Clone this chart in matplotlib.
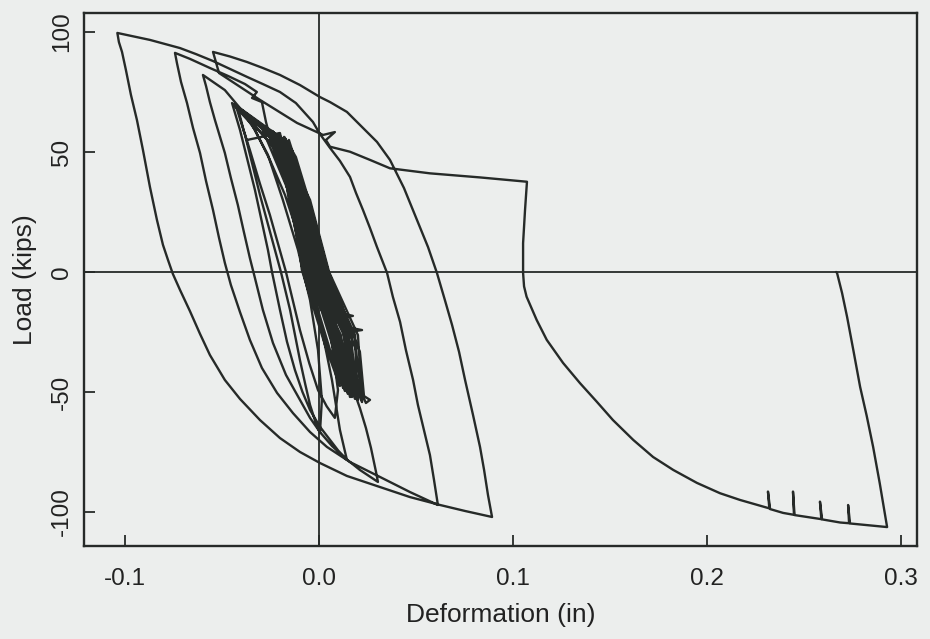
import matplotlib
matplotlib.use("Agg")
import matplotlib.pyplot as plt

plt.rcParams['font.family'] = ['Liberation Sans', 'DejaVu Sans']
plt.rcParams['axes.unicode_minus'] = False

# Load-deformation record, split into the stages of the test (deformation in, load kips)
small_cycles = [
    (-0.0371, 55.0), (-0.0201, 57.9),
    (-0.0139, 34.2), (-0.0088, 0.8), (0.0031, -30.4), (0.0108, -47.5),
    (0.0077, -30.4), (-0.0052, 0.8), (-0.0139, 30.0), (-0.0242, 52.9), (-0.0433, 69.6),
    (-0.0294, 60.0), (-0.0149, 32.1), (-0.0077, 0.8), (0.0046, -32.5), (0.0134, -49.6),
    (0.0103, -30.4), (-0.0036, 0.8), (-0.0119, 27.9), (-0.0222, 50.8), (-0.0397, 67.5),
    (-0.0263, 58.3), (-0.0134, 30.0), (-0.0067, 0.8), (0.0057, -32.5), (0.0149, -50.8),
    (0.0119, -30.4), (-0.0021, 0.8), (-0.0103, 27.9), (-0.0201, 51.7), (-0.0356, 65.0),
    (-0.0242, 57.1), (-0.0119, 30.0), (-0.0052, 0.8), (0.0077, -32.5), (0.0170, -52.1),
    (0.0139, -30.4), (0.0124, -25.4), (0.0222, -24.2), (0.0113, -22.5), (0.0098, -19.2),
    (0.0175, -18.3), (0.0088, -16.7), (-0.0005, 0.8), (-0.0088, 27.9), (-0.0180, 50.8),
    (-0.0325, 62.9),
    (-0.0222, 56.3), (-0.0108, 30.0), (-0.0041, 0.8), (0.0088, -32.5), (0.0186, -52.9),
    (0.0155, -30.4), (0.0010, 0.8), (-0.0072, 27.9), (-0.0165, 50.8), (-0.0278, 60.4),
    (-0.0201, 55.0), (-0.0098, 30.0), (-0.0031, 0.8), (0.0103, -33.3), (0.0201, -53.3),
    (0.0170, -31.7), (0.0026, 0.8), (-0.0062, 27.9), (-0.0149, 50.0), (-0.0242, 58.8),
    (-0.0180, 54.2), (-0.0082, 29.2), (-0.0021, 0.8), (0.0119, -34.6), (0.0222, -54.2),
    (0.0191, -32.5), (0.0036, 0.8), (-0.0052, 27.9), (-0.0134, 48.8), (-0.0211, 57.5),
    (-0.0160, 52.5), (-0.0072, 27.9), (-0.0005, 0.8), (0.0139, -35.4), (0.0242, -54.6),
    (0.0263, -53.3), (0.0232, -51.7),
    (0.0211, -33.3), (0.0046, 0.8), (-0.0041, 27.1), (-0.0119, 47.9), (-0.0180, 56.3),
    (-0.0139, 50.8), (-0.0062, 27.1), (0.0005, 0.8), (0.0124, -32.5), (0.0186, -47.1),
    (0.0160, -32.5), (0.0015, 0.8), (-0.0077, 30.0), (-0.0160, 52.9), (-0.0222, 57.5),
    (-0.0438, 70.0), (-0.0330, 63.3), (-0.0263, 58.3), (-0.0232, 57.5),
    (-0.0149, 30.0), (-0.0082, 0.0), (0.0077, -26.3), (0.0124, -48.3),
    (0.0134, -26.3), (-0.0010, 0.0), (-0.0098, 30.0), (-0.0216, 57.1),
    (-0.0129, 30.0), (-0.0062, 0.0), (0.0098, -26.3), (0.0149, -50.0),
    (0.0155, -26.3), (0.0005, 0.0), (-0.0082, 30.0), (-0.0196, 56.3),
    (-0.0113, 30.0), (-0.0046, 0.0), (0.0113, -26.3), (0.0170, -51.7),
    (0.0170, -26.3), (0.0021, 0.0), (-0.0067, 30.0), (-0.0175, 55.8),
    (-0.0098, 30.0), (-0.0031, 0.0), (0.0129, -26.3), (0.0196, -52.9),
    (0.0186, -26.3), (0.0036, 0.0), (-0.0057, 30.0), (-0.0155, 55.0),
    (-0.0088, 30.0), (-0.0015, 0.0), (0.0144, -26.3), (0.0222, -53.8),
    (0.0201, -26.3), (0.0052, 0.0), (-0.0046, 30.0), (-0.0206, 56.7),
    (-0.0155, 30.0), (-0.0072, 0.0), (0.0088, -26.3), (0.0160, -52.1),
    (0.0144, -26.3), (0.0000, 0.0), (-0.0103, 30.0), (-0.0222, 55.0),
]

cycle_f = [
    (-0.0418, 68.3), (-0.0388, 59.0), (-0.0356, 50.8), (-0.0305, 37.0), (-0.0253, 23.8),
    (-0.0170, 0.0), (-0.0098, -24.2), (-0.0050, -38.0), (-0.0005, -49.2), (0.0040, -56.0),
    (0.0082, -60.8),
    (0.0098, -49.2), (0.0057, -24.2), (0.0015, -7.5), (-0.0036, 9.2), (-0.0108, 30.0),
    (-0.0201, 48.8), (-0.0294, 61.3),
]

cycle_e = [
    (-0.0428, 69.2), (-0.0381, 57.1), (-0.0304, 32.1), (-0.0227, 9.2), (-0.0196, 0.0),
    (-0.0149, -15.8), (-0.0098, -36.7), (-0.0070, -47.0), (-0.0046, -55.4),
    (-0.0020, -62.0), (0.0005, -67.1),
    (0.0015, -53.3), (-0.0005, -32.5), (-0.0046, -11.7), (-0.0108, 9.2), (-0.0186, 30.0),
    (-0.0263, 48.8), (-0.0345, 61.3),
]

cycle_d = [
    (-0.0448, 70.4), (-0.0407, 59.2), (-0.0330, 34.2), (-0.0263, 9.2), (-0.0242, 0.0),
    (-0.0201, -15.8), (-0.0165, -29.0), (-0.0124, -40.8), (-0.0085, -50.0),
    (-0.0046, -57.5), (0.0005, -64.5), (0.0057, -70.0), (0.0100, -74.5), (0.0144, -78.3),
    (0.0108, -65.8), (0.0067, -45.0), (0.0015, -24.2), (-0.0036, -5.4), (-0.0098, 13.3),
    (-0.0175, 32.1), (-0.0253, 46.7), (-0.0330, 59.2), (-0.0407, 68.3), (-0.0485, 75.8),
]

cycle_c = [
    (-0.0598, 82.1), (-0.0582, 77.5), (-0.0562, 70.8), (-0.0536, 63.3), (-0.0510, 56.3),
    (-0.0485, 49.6), (-0.0454, 39.2), (-0.0418, 27.9), (-0.0387, 16.7), (-0.0356, 5.8),
    (-0.0330, -2.5), (-0.0289, -15.8), (-0.0237, -29.6), (-0.0170, -42.9),
    (-0.0098, -53.3), (-0.0046, -60.8), (0.0005, -66.7), (0.0067, -72.5),
    (0.0134, -77.5), (0.0211, -82.5), (0.0304, -87.5),
    (0.0294, -83.3), (0.0268, -73.3), (0.0242, -65.0), (0.0211, -56.7), (0.0160, -45.0),
    (0.0119, -34.6), (0.0082, -24.2), (0.0041, -13.8), (0.0005, -3.3), (-0.0036, 7.1),
    (-0.0072, 17.5), (-0.0113, 27.1), (-0.0149, 36.3), (-0.0191, 44.6), (-0.0227, 50.8),
    (-0.0253, 56.3), (-0.0273, 62.5), (-0.0294, 70.8), (-0.0345, 72.5), (-0.0320, 75.0),
    (-0.0381, 78.3), (-0.0469, 81.7), (-0.0562, 85.0), (-0.0665, 88.8),
]

cycle_b = [
    (-0.0742, 91.3), (-0.0732, 87.1), (-0.0711, 79.2), (-0.0680, 70.4), (-0.0649, 60.0),
    (-0.0613, 49.6), (-0.0582, 37.9), (-0.0546, 25.8), (-0.0515, 14.2), (-0.0485, 3.8),
    (-0.0454, -5.4), (-0.0407, -16.7), (-0.0356, -28.3), (-0.0294, -40.0),
    (-0.0216, -50.4), (-0.0134, -58.8), (-0.0046, -66.7), (0.0041, -72.9),
    (0.0160, -79.2), (0.0314, -85.4), (0.0469, -91.7), (0.0613, -97.1),
    (0.0593, -86.7), (0.0572, -76.3), (0.0541, -65.8), (0.0510, -55.4), (0.0485, -45.0),
    (0.0448, -32.5), (0.0418, -20.8), (0.0381, -10.4), (0.0351, -0.4), (0.0299, 10.4),
    (0.0263, 18.3), (0.0227, 25.8), (0.0191, 32.9), (0.0160, 39.6), (0.0108, 46.3),
    (0.0057, 51.7), (0.0005, 57.5), (-0.0031, 62.5), (-0.0119, 70.4), (-0.0201, 75.0),
    (-0.0289, 78.3), (-0.0371, 81.3), (-0.0459, 84.6), (-0.0546, 87.9), (-0.0634, 90.8),
    (-0.0716, 93.3), (-0.0871, 96.7),
]

cycle_a = [
    (-0.1039, 99.6), (-0.1031, 95.8), (-0.1015, 91.7), (-0.0995, 84.2), (-0.0969, 73.8),
    (-0.0938, 63.3), (-0.0907, 50.8), (-0.0871, 35.4), (-0.0835, 21.7), (-0.0804, 11.3),
    (-0.0778, 5.0), (-0.0753, -0.8), (-0.0716, -7.5), (-0.0665, -16.3), (-0.0613, -25.8),
    (-0.0562, -34.6), (-0.0485, -45.0), (-0.0407, -52.9), (-0.0304, -61.7),
    (-0.0201, -69.2), (-0.0098, -75.0), (0.0005, -79.6), (0.0144, -85.0), (0.0314, -89.6),
    (0.0469, -93.8), (0.0624, -97.1), (0.0753, -99.6), (0.0892, -102.1),
    (0.0871, -92.9), (0.0851, -82.5), (0.0830, -72.9), (0.0794, -59.6), (0.0753, -45.0),
    (0.0722, -33.3), (0.0686, -22.1), (0.0649, -11.7), (0.0608, -0.4), (0.0562, 10.4),
    (0.0505, 21.7), (0.0438, 35.0), (0.0366, 46.7), (0.0299, 54.2), (0.0227, 60.0),
    (0.0144, 66.7), (0.0057, 70.8), (0.0005, 72.9), (-0.0098, 77.9), (-0.0201, 82.1),
    (-0.0289, 85.0), (-0.0371, 87.5), (-0.0459, 89.8), (-0.0546, 91.7),
]

final_push = [
    (-0.0515, 82.9), (-0.0304, 71.7), (-0.0113, 62.1), (0.0021, 57.1), (0.0082, 58.3),
    (0.0036, 55.0), (0.0057, 52.2), (0.0160, 50.1), (0.0263, 46.7), (0.0366, 43.2),
    (0.0572, 41.1), (0.0830, 39.4), (0.1072, 37.6), (0.1062, 25.8), (0.1052, 12.0),
    (0.1052, -0.4), (0.1057, -6.0), (0.1070, -10.3), (0.1122, -20.0), (0.1174, -28.3),
    (0.1258, -37.9), (0.1345, -46.3), (0.1431, -54.0), (0.1515, -61.7), (0.1620, -70.0),
    (0.1722, -77.1), (0.1826, -82.5), (0.1948, -87.9), (0.2067, -92.2), (0.2170, -95.0),
    (0.2321, -98.5), (0.2314, -91.5), (0.2325, -98.8), (0.2392, -100.4),
    (0.2448, -101.2), (0.2443, -91.5), (0.2451, -101.3), (0.2546, -102.5),
    (0.2589, -103.0), (0.2582, -95.7), (0.2593, -103.1), (0.2686, -104.4),
    (0.2732, -104.7), (0.2727, -97.1), (0.2737, -104.8), (0.2928, -106.3),
    (0.2890, -88.0), (0.2856, -72.9), (0.2823, -60.0), (0.2789, -47.9), (0.2755, -33.0),
    (0.2722, -18.8), (0.2696, -8.8), (0.2670, -0.4), (0.2665, 0.0),
]

stages = [small_cycles, cycle_f, cycle_e, cycle_d, cycle_c, cycle_b, cycle_a, final_push]

x_ticks = [-0.1, 0.0, 0.1, 0.2, 0.3]
x_tick_labels = ["-0.1", "0.0", "0.1", "0.2", "0.3"]
y_ticks = [-100, -50, 0, 50, 100]
y_tick_labels = ["-100", "-50", "0", "50", "100"]

ink = "#262a28"
paper = "#eceeed"

fig = plt.figure(figsize=(9.3, 6.39), dpi=100, facecolor=paper)
ax = fig.add_axes([0.0903, 0.1455, 0.8957, 0.8341], facecolor=paper)

path_x = [p[0] for stage in stages for p in stage]
path_y = [p[1] for stage in stages for p in stage]
ax.plot(path_x, path_y, color=ink, lw=1.7, solid_joinstyle="round",
        solid_capstyle="round", zorder=3)

ax.axhline(0, color=ink, lw=1.3, zorder=2)
ax.axvline(0, color=ink, lw=1.3, zorder=2)

ax.set_xlim(-0.1211, 0.3082)
ax.set_ylim(-114.2, 107.9)

ax.set_xticks(x_ticks)
ax.set_xticklabels(x_tick_labels)
ax.set_yticks(y_ticks)
ax.set_yticklabels(y_tick_labels, rotation=90, va="center")

ax.tick_params(axis="both", direction="in", length=8, width=1.3, color=ink,
               labelsize=17.5, labelcolor="#222222")
ax.tick_params(axis="x", pad=16)
ax.tick_params(axis="y", pad=8)

for side in ax.spines.values():
    side.set_color(ink)
    side.set_linewidth(1.7)

ax.set_xlabel("Deformation (in)", fontsize=19, color="#222222")
ax.set_ylabel("Load (kips)", fontsize=19, color="#222222")
ax.xaxis.set_label_coords(0.5, -0.107)
ax.yaxis.set_label_coords(-0.056, 0.5)

fig.savefig("out.png", dpi=100, facecolor=paper)
